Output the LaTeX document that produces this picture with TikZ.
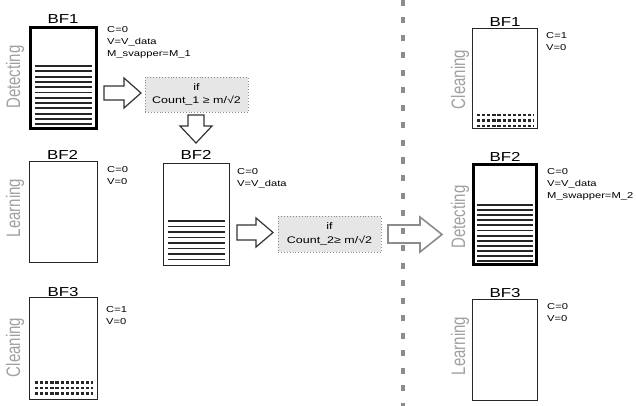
\documentclass[tikz,border=0pt]{standalone}
\usepackage{fontspec}
\setmainfont{Liberation Sans}
\usepackage{graphicx}
\newcommand{\hx}[1]{\scalebox{1.3}[1]{#1}}
\newcommand{\vx}[1]{\rotatebox{90}{\scalebox{1}[1.3]{#1}}}
\definecolor{lblgray}{HTML}{A0A0A0}
\definecolor{condfill}{HTML}{E6E6E6}
\definecolor{sepgray}{HTML}{8C8C8C}
\begin{document}
\begin{tikzpicture}[x=1pt,y=-1pt,
  thinbox/.style={draw=black!85, line width=1.2pt, fill=white, minimum width=#1},
  thickbox/.style={draw=black, line width=3pt, fill=white, minimum width=#1},
  title/.style={anchor=base, font=\fontsize{13}{13}\selectfont, inner sep=0pt},
  info/.style={anchor=north west, align=left, font=\fontsize{8.6}{11.8}\selectfont, inner sep=0pt},
  side/.style={text=lblgray, font=\fontsize{15}{15}\selectfont, inner sep=0pt},
  cond/.style={draw=sepgray, dotted, line width=0.9pt, fill=condfill, align=center,
               font=\fontsize{9.6}{13.5}\selectfont, inner sep=0pt},
  hline/.style={draw=black!85, line width=1.9pt},
  dline/.style={draw=black!85, line width=2.1pt, dash pattern=on 3.2pt off 1.9pt},
  barrow/.style={draw=black!80, line width=1.2pt, fill=white, line join=miter},
]
\useasboundingbox (0,0) rectangle (636,406);

% ---------- big gray arrow and separator ----------
\draw[draw=sepgray, line width=1.6pt, fill=white]
  (388,225) -- (420,225) -- (420,217) -- (442,234.5) -- (420,252) -- (420,243) -- (388,243) -- cycle;
\coordinate (septop) at (403,0);
\coordinate (sepbot) at (403,406);
\draw[sepgray, line width=4pt, dash pattern=on 6pt off 11.5pt] (septop) -- (sepbot);

% ---------- left column ----------
\node[thickbox=66pt, minimum height=101pt] (L1) at (63.5,78) {};
\foreach \i in {0,...,11} \draw[hline] (35,66+5.3*\i) -- (92,66+5.3*\i);
\node[title] (L1t) at (63,24) {\hx{BF1}};
\node[info] (L1i) at (107,26.7) {\hx{C=0}\\\hx{V=V\_data}\\\hx{M\_svapper=M\_1}};
\node[side] (L1s) at (15,77) {\vx{Detecting}};

\node[thinbox=68pt, minimum height=101pt] (L2) at (63.5,212) {};
\node[title] (L2t) at (62.5,159.5) {\hx{BF2}};
\node[info] (L2i) at (107,166.7) {\hx{C=0}\\\hx{V=0}};
\node[side] (L2s) at (15,208) {\vx{Learning}};

\node[thinbox=68pt, minimum height=102pt] (L3) at (63.5,348.5) {};
\foreach \y in {382.5,388,393.5} \draw[dline] (35,\y) -- (93,\y);
\node[title] (L3t) at (63,296) {\hx{BF3}};
\node[info] (L3i) at (106,306.7) {\hx{C=1}\\\hx{V=0}};
\node[side] (L3s) at (15,347.5) {\vx{Cleaning}};

% ---------- middle ----------
\draw[barrow] (104,86) -- (124,86) -- (124,78) -- (141,93) -- (124,108) -- (124,100) -- (104,100) -- cycle;
\node[cond, minimum width=103pt, minimum height=35pt] (c1) at (196.5,94.5) {\hx{if}\\\hx{Count\_1 ≥ m/√2}};
\draw[barrow] (188,115) -- (204,115) -- (204,126) -- (212,126) -- (196,143) -- (180,126) -- (188,126) -- cycle;

\node[thinbox=66pt, minimum height=102pt] (M2) at (196.5,214.5) {};
\foreach \i in {0,...,7} \draw[hline] (168,221+5.5*\i) -- (225,221+5.5*\i);
\node[title] (M2t) at (196,159.5) {\hx{BF2}};
\node[info] (M2i) at (237,168.7) {\hx{C=0}\\\hx{V=V\_data}};

\draw[barrow] (237,225) -- (256,225) -- (256,218) -- (273,232.5) -- (256,247) -- (256,240) -- (237,240) -- cycle;
\node[cond, minimum width=103pt, minimum height=36pt] (c2) at (329.5,234) {\hx{if}\\\hx{Count\_2≥ m/√2}};

% ---------- right column ----------
\node[thinbox=65pt, minimum height=100pt] (R1) at (505,78.5) {};
\foreach \y in {115,120.5,126} \draw[dline] (477,\y) -- (534,\y);
\node[title] (R1t) at (505,26.5) {\hx{BF1}};
\node[info] (R1i) at (546,32.7) {\hx{C=1}\\\hx{V=0}};
\node[side] (R1s) at (460,79.5) {\vx{Cleaning}};

\node[thickbox=63pt, minimum height=100pt] (R2) at (505,214.5) {};
\foreach \i in {0,...,11} \draw[hline] (477,205+5.1*\i) -- (533,205+5.1*\i);
\node[title] (R2t) at (505,161) {\hx{BF2}};
\node[info] (R2i) at (547,168.7) {\hx{C=0}\\\hx{V=V\_data}\\\hx{M\_swapper=M\_2}};
\node[side] (R2s) at (460,217) {\vx{Detecting}};

\node[thinbox=65pt, minimum height=101pt] (R3) at (505,350) {};
\node[title] (R3t) at (505,297.5) {\hx{BF3}};
\node[info] (R3i) at (547,303.7) {\hx{C=0}\\\hx{V=0}};
\node[side] (R3s) at (460,346) {\vx{Learning}};
\end{tikzpicture}
\end{document}
